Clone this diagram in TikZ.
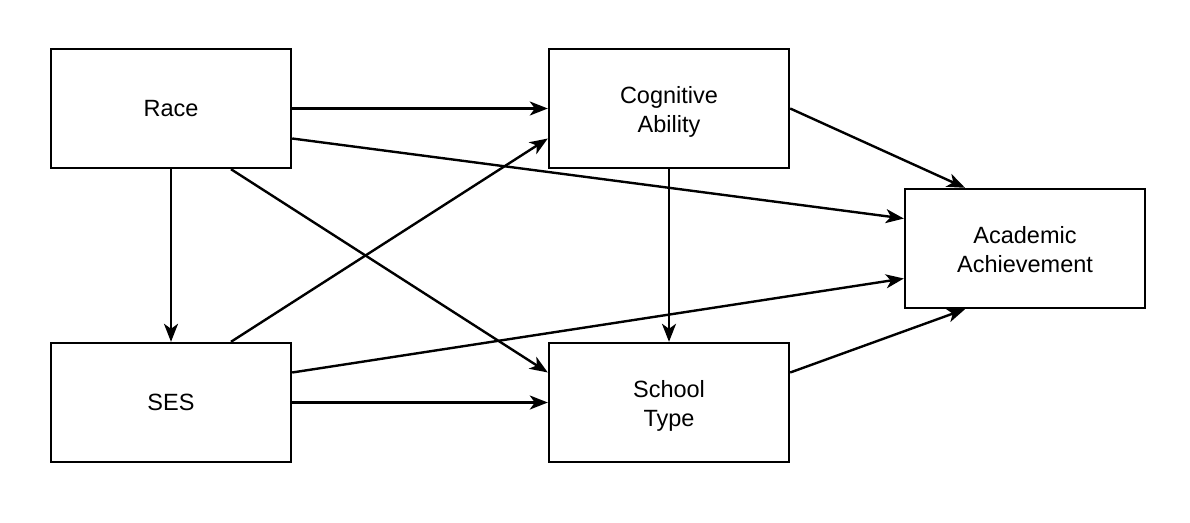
\documentclass[tikz,border=0pt]{standalone}
\usepackage{fontspec}
\setmainfont{Liberation Sans}
\usetikzlibrary{arrows.meta}

\tikzset{
  varbox/.style={draw, line width=2.4pt, minimum width=240pt, minimum height=119pt,
    align=center, font=\fontsize{23.5}{29}\selectfont, inner sep=0pt},
  twoline/.style={text height=52pt, text depth=4pt},
  path/.style={line width=2.4pt, -{Stealth[length=18pt, width=14pt, inset=5pt]}}
}

\begin{document}
\begin{tikzpicture}[x=1pt, y=-1pt]
\useasboundingbox (0,0) rectangle (1190,522);
\node [varbox] (race) at (171,108.5) {Race};
\node [varbox, twoline] (cog) at (669,108.5) {Cognitive\\Ability};
\node [varbox, twoline] (acad) at (1025,248.5) {Academic\\Achievement};
\node [varbox] (ses) at (171,402.5) {SES};
\node [varbox, twoline] (school) at (669,402.5) {School\\Type};

\draw [path] (race.east) -- (cog.west);
\draw [path] ([yshift=-30pt]race.east) -- ([yshift=30pt]acad.west);
\draw [path] (race.south) -- (ses.north);
\draw [path] ([xshift=60pt]race.south) -- ([yshift=30pt]school.west);
\draw [path] ([xshift=60pt]ses.north) -- ([yshift=-30pt]cog.west);
\draw [path] ([yshift=30pt]ses.east) -- ([yshift=-30pt]acad.west);
\draw [path] (ses.east) -- (school.west);
\draw [path] (cog.south) -- (school.north);
\draw [path] (cog.east) -- ([xshift=-60pt]acad.north);
\draw [path] ([yshift=30pt]school.east) -- ([xshift=-60pt]acad.south);
\end{tikzpicture}
\end{document}
